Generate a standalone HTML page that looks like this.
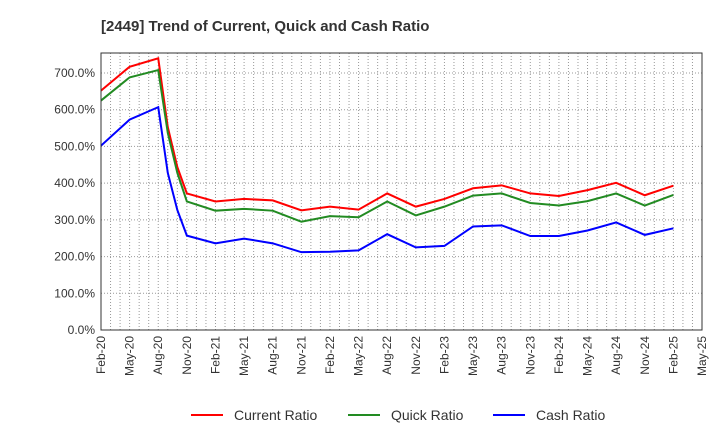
<!DOCTYPE html>
<html><head><meta charset="utf-8"><style>
body{margin:0;background:#fff;font-family:"Liberation Sans",sans-serif}
</style></head><body>
<svg id="c" width="720" height="440" xmlns="http://www.w3.org/2000/svg">
<text x="101" y="31" font-size="15" font-weight="bold" fill="#333">[2449]  Trend of Current, Quick and Cash Ratio</text>
<g id="grid"></g><g id="series"></g><g id="axes"></g>
<g font-size="14" fill="#333">
<g><line x1="191" y1="415" x2="223" y2="415" stroke="#f00" stroke-width="2"/><text x="234" y="420">Current Ratio</text></g>
<g><line x1="348" y1="415" x2="380" y2="415" stroke="#228b22" stroke-width="2"/><text x="391" y="420">Quick Ratio</text></g>
<g><line x1="493" y1="415" x2="525" y2="415" stroke="#00f" stroke-width="2"/><text x="536" y="420">Cash Ratio</text></g>
</g>
</svg>
<script>
const months=[0,3,6,7,8,9,12,15,18,21,24,27,30,33,36,39,42,45,48,51,54,57,60];
const current=[652,717,740,553,444,372,350,357,353,326,336,328,372,336,357,386,394,372,365,381,401,367,393];
const quick=[625,688,708,537,428,350,325,330,325,295,310,307,350,312,336,366,372,346,339,351,372,339,368];
const cash=[502,573,607,428,327,257,236,249,236,212,213,217,261,225,229,282,285,256,256,271,293,259,277];
const yTicks=[0,100,200,300,400,500,600,700];
const xLabels=["Feb-20","May-20","Aug-20","Nov-20","Feb-21","May-21","Aug-21","Nov-21","Feb-22","May-22","Aug-22","Nov-22","Feb-23","May-23","Aug-23","Nov-23","Feb-24","May-24","Aug-24","Nov-24","Feb-25","May-25"];
const L=101,R=702,T=53,B=330,NS="http://www.w3.org/2000/svg";
const X=m=>L+m*(R-L)/63, Y=v=>B-v*(B-73)/700;
function mk(t,a,p){const e=document.createElementNS(NS,t);for(const k in a)e.setAttribute(k,a[k]);p.appendChild(e);return e;}
const g=document.getElementById('grid'),ax=document.getElementById('axes'),s=document.getElementById('series');
for(let m=0;m<=63;m++){const l=mk('line',{x1:X(m),x2:X(m),y1:T,y2:B,stroke:'#999','stroke-width':1,'stroke-dasharray':'1,2'},g);
}
yTicks.forEach(v=>{const l=mk('line',{x1:L,x2:R,y1:Y(v),y2:Y(v),stroke:'#999','stroke-width':1,'stroke-dasharray':'1,2'},g);

const t=mk('text',{x:L-6,y:Y(v)+4,'text-anchor':'end','font-size':12,fill:'#333'},ax);t.textContent=v.toFixed(1)+'%';
});
xLabels.forEach((lab,i)=>{const x=X(i*3);const t=mk('text',{x:x+4,y:B+6,'text-anchor':'end','font-size':12,fill:'#333',transform:`rotate(-90 ${x+4} ${B+6})`},ax);t.textContent=lab;
});
const fr=mk('rect',{x:L,y:T,width:R-L,height:B-T,fill:'none',stroke:'#333','stroke-width':1},ax);

[[current,'#f00','current-ratio-line'],[quick,'#228b22','quick-ratio-line'],[cash,'#00f','cash-ratio-line']].forEach(([d,c,n])=>{
const p=mk('polyline',{points:d.map((v,i)=>X(months[i])+','+Y(v)).join(' '),fill:'none',stroke:c,'stroke-width':2},s);
});
</script>
</body></html>
